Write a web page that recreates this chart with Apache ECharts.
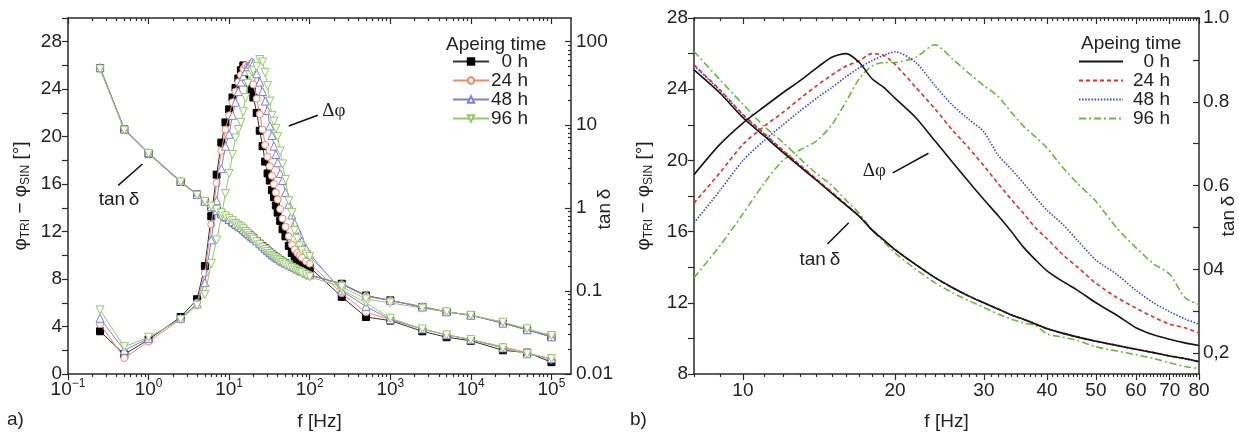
<!DOCTYPE html>
<html><head><meta charset="utf-8">
<script src="https://cdn.jsdelivr.net/npm/echarts@6/dist/echarts.min.js"></script>
<style>html,body{margin:0;padding:0;background:#fff}#c{width:1239px;height:437px}</style>
</head><body><div id="c"></div>
<script>
// ---------------- data ----------------
const ageLabels = ['0 h', '24 h', '48 h', '96 h'];

// panel a) frequencies [Hz]
const freqA = [0.25, 0.5, 1, 2.5, 4, 5, 6, 7, 8, 9, 10, 11, 12, 13, 14, 15, 16, 17, 18, 19, 20, 22, 24, 26, 28, 30, 32, 34, 36, 38, 40, 43, 46, 50, 55, 60, 65, 70, 75, 80, 90, 100, 250, 500, 1000, 2500, 5000, 10000, 25000, 50000, 100000];
// panel a) delta phi [deg]
const dphiA_0h  = [3.6, 1.65, 2.9, 4.8, 6.3, 9.1, 13.3, 16.8, 19.5, 21.2, 22.3, 23.3, 24.1, 24.9, 25.6, 26.0, 25.5, 25.0, 24.5, 23.9, 23.3, 22.0, 20.5, 19.2, 17.9, 16.9, 16.3, 15.5, 14.9, 14.2, 13.6, 12.9, 12.2, 11.6, 10.8, 10.2, 9.9, 9.7, 9.5, 9.4, 9.2, 9.0, 6.5, 4.8, 4.5, 3.6, 3.1, 2.8, 2.0, 1.8, 1.0];
const dphiA_24h = [4.2, 1.35, 2.75, 4.6, 6.0, 8.5, 12.6, 16.1, 18.8, 20.6, 21.8, 22.9, 23.8, 24.6, 25.2, 25.7, 26.0, 25.9, 25.4, 24.9, 24.4, 23.2, 21.9, 20.6, 19.3, 18.3, 17.5, 16.7, 16.0, 15.3, 14.7, 13.9, 13.1, 12.4, 11.6, 10.9, 10.5, 10.2, 10.0, 9.8, 9.5, 9.3, 6.8, 5.2, 4.6, 3.8, 3.3, 2.9, 2.3, 1.8, 1.2];
const dphiA_48h = [4.7, 2.0, 3.0, 4.7, 5.9, 7.7, 11.3, 14.6, 17.3, 19.2, 20.2, 21.8, 22.9, 23.8, 24.6, 25.1, 25.5, 25.9, 26.1, 26.3, 26.2, 25.3, 24.6, 23.8, 23.0, 22.2, 20.9, 20.1, 19.2, 18.5, 17.8, 16.9, 16.3, 15.3, 14.3, 13.4, 12.7, 12.2, 11.7, 11.2, 10.6, 10.1, 7.0, 5.7, 4.6, 3.8, 3.3, 2.9, 2.2, 1.7, 1.3];
const dphiA_96h = [5.4, 2.3, 3.1, 4.6, 5.8, 6.7, 9.3, 11.3, 13.3, 15.2, 16.9, 18.5, 19.9, 20.6, 21.2, 22.1, 23.3, 24.5, 25.2, 25.5, 25.6, 25.9, 26.5, 26.3, 25.4, 24.3, 23.0, 21.8, 21.3, 20.7, 20.0, 18.8, 17.7, 16.4, 14.6, 13.6, 12.1, 11.4, 10.8, 10.4, 10.1, 9.9, 7.1, 6.0, 4.7, 3.8, 3.3, 2.9, 2.2, 1.7, 1.3];
// panel a) tan delta
const tanA_0h  = [48, 8.8, 4.5, 2.05, 1.45, 1.2, 1.02, 0.92, 0.84, 0.77, 0.72, 0.67, 0.63, 0.6, 0.57, 0.54, 0.51, 0.49, 0.47, 0.45, 0.43, 0.4, 0.37, 0.345, 0.325, 0.305, 0.29, 0.275, 0.265, 0.255, 0.245, 0.235, 0.225, 0.215, 0.205, 0.197, 0.19, 0.183, 0.177, 0.172, 0.163, 0.155, 0.122, 0.088, 0.077, 0.064, 0.056, 0.051, 0.041, 0.034, 0.028];
const tanA_24h = [48, 8.9, 4.5, 2.05, 1.45, 1.2, 1.03, 0.93, 0.85, 0.78, 0.73, 0.68, 0.64, 0.61, 0.58, 0.55, 0.52, 0.49, 0.47, 0.45, 0.43, 0.4, 0.37, 0.345, 0.325, 0.305, 0.29, 0.276, 0.265, 0.255, 0.246, 0.235, 0.226, 0.216, 0.206, 0.198, 0.19, 0.184, 0.178, 0.172, 0.164, 0.156, 0.12, 0.087, 0.077, 0.065, 0.056, 0.051, 0.042, 0.034, 0.029];
const tanA_48h = [49, 8.9, 4.6, 2.1, 1.45, 1.2, 1.03, 0.93, 0.85, 0.78, 0.73, 0.68, 0.64, 0.61, 0.58, 0.55, 0.52, 0.49, 0.47, 0.45, 0.43, 0.4, 0.37, 0.345, 0.325, 0.305, 0.29, 0.276, 0.265, 0.255, 0.246, 0.235, 0.226, 0.216, 0.206, 0.198, 0.19, 0.184, 0.178, 0.172, 0.164, 0.156, 0.121, 0.086, 0.077, 0.064, 0.056, 0.051, 0.041, 0.034, 0.028];
const tanA_96h = [47, 8.6, 4.5, 2.05, 1.42, 1.2, 1.05, 0.95, 0.87, 0.8, 0.75, 0.7, 0.65, 0.62, 0.59, 0.56, 0.52, 0.49, 0.46, 0.44, 0.42, 0.39, 0.36, 0.335, 0.315, 0.297, 0.282, 0.268, 0.257, 0.25, 0.24, 0.23, 0.22, 0.21, 0.2, 0.192, 0.184, 0.177, 0.171, 0.165, 0.156, 0.148, 0.112, 0.08, 0.072, 0.062, 0.056, 0.051, 0.042, 0.035, 0.029];

// panel b) frequencies [Hz]
const freqB = [8, 9, 10, 11, 12, 13, 14, 15, 16, 17, 18, 19, 20, 22, 24, 26, 28, 30, 32, 34, 36, 38, 40, 43, 46, 50, 55, 60, 65, 70, 75, 80];
const dphiB_0h  = [19.2, 20.9, 22.1, 23.0, 23.8, 24.5, 25.2, 25.8, 26.0, 25.5, 24.6, 24.1, 23.5, 22.4, 21.1, 19.9, 18.8, 17.8, 16.9, 16.0, 15.1, 14.4, 13.8, 13.2, 12.7, 12.0, 11.3, 10.6, 10.2, 9.95, 9.75, 9.6];
const dphiB_24h = [17.6, 19.3, 20.9, 21.9, 22.7, 23.5, 24.2, 24.8, 25.3, 25.6, 26.0, 25.9, 25.4, 24.1, 22.9, 21.7, 20.7, 19.7, 18.7, 17.8, 17.0, 16.2, 15.6, 14.7, 14.0, 13.1, 12.3, 11.7, 11.2, 10.8, 10.6, 10.3];
const dphiB_48h = [16.5, 18.3, 20.0, 21.1, 22.0, 22.8, 23.5, 24.1, 24.7, 25.2, 25.6, 25.9, 26.1, 25.5, 24.2, 23.1, 22.3, 21.6, 20.3, 19.5, 18.7, 17.9, 17.2, 16.4, 15.5, 14.4, 13.6, 12.7, 12.0, 11.5, 11.1, 10.8];
const dphiB_96h = [13.4, 15.2, 17.0, 18.7, 20.0, 20.6, 21.1, 22.0, 23.3, 24.6, 25.3, 25.5, 25.5, 25.8, 26.5, 25.7, 24.9, 24.2, 23.6, 22.7, 21.9, 21.3, 20.7, 19.6, 18.7, 17.7, 16.2, 15.1, 14.2, 13.6, 12.3, 11.9];
const tanB_0h  = [0.876, 0.821, 0.762, 0.719, 0.679, 0.644, 0.612, 0.581, 0.553, 0.526, 0.494, 0.470, 0.447, 0.411, 0.380, 0.356, 0.336, 0.320, 0.305, 0.291, 0.280, 0.269, 0.258, 0.247, 0.238, 0.228, 0.218, 0.209, 0.201, 0.193, 0.187, 0.180];
const tanB_24h = [0.888, 0.829, 0.770, 0.725, 0.684, 0.648, 0.615, 0.584, 0.555, 0.527, 0.495, 0.470, 0.447, 0.411, 0.380, 0.356, 0.336, 0.320, 0.305, 0.291, 0.280, 0.269, 0.258, 0.247, 0.238, 0.228, 0.218, 0.209, 0.201, 0.193, 0.187, 0.179];
const tanB_48h = [0.886, 0.827, 0.768, 0.724, 0.683, 0.647, 0.614, 0.583, 0.554, 0.527, 0.495, 0.470, 0.447, 0.411, 0.381, 0.357, 0.337, 0.320, 0.305, 0.292, 0.281, 0.270, 0.259, 0.248, 0.239, 0.229, 0.219, 0.210, 0.201, 0.193, 0.186, 0.179];
const tanB_96h = [0.920, 0.853, 0.794, 0.742, 0.703, 0.663, 0.628, 0.600, 0.565, 0.533, 0.494, 0.466, 0.439, 0.400, 0.368, 0.344, 0.325, 0.309, 0.293, 0.281, 0.272, 0.265, 0.246, 0.238, 0.230, 0.215, 0.205, 0.196, 0.187, 0.177, 0.168, 0.163];

// tick labels
const xDecadeExpA = [-1, 0, 1, 2, 3, 4, 5];
const tanTicksA = [0.01, 0.1, 1, 10, 100];
const tanTickLabelsA = ['0.01', '0.1', '1', '10', '100'];
const xTicksB = [10, 20, 30, 40, 50, 60, 70, 80];
const tanTicksB = [0.2, 0.4, 0.6, 0.8, 1.0];
const tanTickLabelsB = ['0,2', '04', '0.6', '0.8', '1.0'];

// ---------------- chart ----------------
const FONT = 'Liberation Sans';
const AX = '#2a2a2a';
const TXT = '#222';
const FS = 19;

const xMinA = 0.1, xMaxA = 1.75e5;
const yMaxA = 30;
const tanMinA = 0.01, tanMaxA = 0.01 * Math.pow(10, yMaxA / 7);
const xMinB = 8, xMaxB = 80;

function logMinor(minV, maxV) {
  const out = [];
  for (let e = -3; e <= 6; e++) for (let m = 2; m <= 9; m++) {
    const v = +(m * Math.pow(10, e)).toPrecision(6);
    if (v > minV && v < maxV) out.push(v);
  }
  return out;
}
const minorB = [];
for (let f = xMinB; f < xMaxB; f++) if (f % 10 !== 0) minorB.push(f);
const tanMinorTicksB = [0.2, 0.3, 0.4, 0.5, 0.6, 0.7, 0.8, 0.9, 1.0];

const lineAx = {show: true, onZero: false, lineStyle: {color: AX, width: 1.5}};
const noLine = {show: false, onZero: false};
function tick(vals, len, inside) { return {show: true, customValues: vals, length: len, inside: !!inside, lineStyle: {color: AX, width: 1.2}}; }

function xAx(grid, type, pos, min, max, extra) {
  return Object.assign({type: type, gridIndex: grid, position: pos, min: min, max: max,
    axisLine: noLine, axisTick: {show: false}, axisLabel: {show: false}, splitLine: {show: false}}, extra);
}
const supRich = {b: {fontSize: FS, color: TXT, fontFamily: FONT}, s: {fontSize: 12, color: TXT, fontFamily: FONT, padding: [0, 0, 12, 0]}};
const powersA = xDecadeExpA.map(e => Math.pow(10, e));
const nameStyle = {fontSize: FS, color: TXT, fontFamily: FONT};

const xAxes = [
  // panel a
  xAx(0, 'log', 'bottom', xMinA, xMaxA, {axisLine: lineAx, axisTick: tick(powersA, 6),
    axisLabel: {show: true, customValues: powersA, margin: 4, rich: supRich,
      formatter: v => { const e = Math.round(Math.log10(v)); const i = xDecadeExpA.indexOf(e); return '{b|10}{s|' + (xDecadeExpA[i] < 0 ? '\u2212' + (-xDecadeExpA[i]) : xDecadeExpA[i]) + '}'; }},
    name: 'f [Hz]', nameLocation: 'middle', nameGap: 38, nameMoveOverlap: false, nameTextStyle: nameStyle}),
  xAx(0, 'log', 'bottom', xMinA, xMaxA, {axisTick: tick(logMinor(xMinA, xMaxA), 3)}),
  xAx(0, 'log', 'top', xMinA, xMaxA, {axisLine: lineAx, axisTick: tick(powersA, 6, true)}),
  xAx(0, 'log', 'top', xMinA, xMaxA, {axisTick: tick(logMinor(xMinA, xMaxA), 3, true)}),
  // panel b
  xAx(1, 'log', 'bottom', xMinB, xMaxB, {axisLine: lineAx, axisTick: tick(xTicksB, 6),
    axisLabel: {show: true, customValues: xTicksB, margin: 7, fontSize: FS, color: TXT, fontFamily: FONT, formatter: v => String(xTicksB[xTicksB.indexOf(Math.round(v))])},
    name: 'f [Hz]', nameLocation: 'middle', nameGap: 38, nameMoveOverlap: false, nameTextStyle: nameStyle}),
  xAx(1, 'log', 'bottom', xMinB, xMaxB, {axisTick: tick(minorB, 3)}),
  xAx(1, 'log', 'top', xMinB, xMaxB, {axisLine: lineAx, axisTick: tick(xTicksB, 6, true)}),
  xAx(1, 'log', 'top', xMinB, xMaxB, {axisTick: tick(minorB, 3, true)})
];

const nameRich = {s: {fontSize: 12, color: TXT, fontFamily: FONT, padding: [10, 0, 0, 0]}};
const yAxes = [
  // 0: panel a left
  {type: 'value', gridIndex: 0, position: 'left', min: 0, max: yMaxA, interval: 2,
   axisLine: lineAx, axisTick: {show: true, length: 6, lineStyle: {color: AX, width: 1.2}},
   axisLabel: {fontSize: FS, color: TXT, fontFamily: FONT, margin: 6, formatter: v => (v % 4 === 0 && v <= 28) ? String(v) : ''},
   splitLine: {show: false},
   name: '\u03c6{s|TRI} \u2212 \u03c6{s|SIN} [\u00b0]', nameLocation: 'middle', nameRotate: 90, nameGap: 36, nameMoveOverlap: false,
   nameTextStyle: Object.assign({rich: nameRich}, nameStyle)},
  // 1: panel a right (log)
  {type: 'log', gridIndex: 0, position: 'right', min: tanMinA, max: tanMaxA,
   axisLine: lineAx, axisTick: tick(tanTicksA, 6, true),
   axisLabel: {show: true, customValues: tanTicksA, fontSize: FS, color: TXT, fontFamily: FONT, margin: 5,
     formatter: v => { let b = 0, d = 1e9; tanTicksA.forEach((t, i) => { const dd = Math.abs(Math.log10(t / v)); if (dd < d) { d = dd; b = i; } }); return tanTickLabelsA[b]; }},
   splitLine: {show: false},
   name: 'tan\u2009\u03b4', nameLocation: 'middle', nameRotate: 90, nameGap: 24, nameMoveOverlap: false,
   nameTextStyle: Object.assign({padding: [0, 26, 0, 0]}, nameStyle)},
  // 2: panel a right minor
  {type: 'log', gridIndex: 0, position: 'right', min: tanMinA, max: tanMaxA,
   axisLine: noLine, axisTick: tick(logMinor(tanMinA, tanMaxA), 3, true), axisLabel: {show: false}, splitLine: {show: false}},
  // 3: panel b left
  {type: 'value', gridIndex: 1, position: 'left', min: 8, max: 28, interval: 2,
   axisLine: lineAx, axisTick: {show: true, length: 6, lineStyle: {color: AX, width: 1.2}},
   axisLabel: {fontSize: FS, color: TXT, fontFamily: FONT, margin: 6, formatter: v => (v % 4 === 0) ? String(v) : ''},
   splitLine: {show: false},
   name: '\u03c6{s|TRI} \u2212 \u03c6{s|SIN} [\u00b0]', nameLocation: 'middle', nameRotate: 90, nameGap: 39, nameMoveOverlap: false,
   nameTextStyle: Object.assign({rich: nameRich}, nameStyle)},
  // 4: panel b right
  {type: 'value', gridIndex: 1, position: 'right', min: 0.15, max: 1.0,
   axisLine: lineAx, axisTick: tick(tanMinorTicksB, 6, true),
   axisLabel: {show: true, customValues: tanTicksB, fontSize: FS, color: TXT, fontFamily: FONT, margin: 4,
     formatter: v => { let b = 0, d = 1e9; tanTicksB.forEach((t, i) => { const dd = Math.abs(t - v); if (dd < d) { d = dd; b = i; } }); return tanTickLabelsB[b]; }},
   splitLine: {show: false},
   name: 'tan\u2009\u03b4', nameLocation: 'middle', nameRotate: 90, nameGap: 20, nameMoveOverlap: false,
   nameTextStyle: Object.assign({padding: [0, 40, 0, 0]}, nameStyle)}
];

const pairs = (xs, ys) => xs.map((x, i) => [x, ys[i]]);
const dphiA = [dphiA_0h, dphiA_24h, dphiA_48h, dphiA_96h];
const tanA = [tanA_0h, tanA_24h, tanA_48h, tanA_96h];
const dphiB = [dphiB_0h, dphiB_24h, dphiB_48h, dphiB_96h];
const tanB = [tanB_0h, tanB_24h, tanB_48h, tanB_96h];

const colA = ['#333333', '#f2876a', '#7f7fd6', '#95c86c'];
const symA = ['rect', 'circle', 'triangle', 'path://M0,0L10,0L5,9Z'];
const sizeA = [7, 7, 8, 8];
const colB = ['#151515', '#e52a2a', '#3447c8', '#68b83a'];
const dashB = ['solid', [4, 3], [1.5, 1.6], [7, 3, 2, 3]];

const annoLabel = (txt, font) => ({show: true, position: 'inside', formatter: txt, fontSize: FS, color: TXT, fontFamily: font || FONT});
const arrowStyle = {color: '#111', width: 1.5, type: 'solid'};

const series = [];
const idx = {};
for (let k = 0; k < 4; k++) {
  const filled = k === 0;
  const base = {
    type: 'line', name: ageLabels[k], xAxisIndex: 0, symbol: symA[k], symbolSize: sizeA[k],
    showAllSymbol: true, z: 2 + k,
    lineStyle: {color: colA[k], width: 1},
    itemStyle: {color: filled ? '#000' : '#fff', borderColor: filled ? '#000' : colA[k], borderWidth: 1},
    emphasis: {disabled: true}, animation: false
  };
  idx['a_d' + k] = series.length;
  series.push(Object.assign({}, base, {yAxisIndex: 0, data: pairs(freqA, dphiA[k])}));
  series.push(Object.assign({}, base, {yAxisIndex: 1, data: pairs(freqA, tanA[k])}));
}
for (let k = 3; k >= 0; k--) {
  const base = {
    type: 'line', name: ageLabels[k] + ' ', xAxisIndex: 4, symbol: 'none', smooth: 0.25, z: 10 - k,
    lineStyle: {color: colB[k], width: 1.6, type: dashB[k]},
    itemStyle: {color: colB[k]}, emphasis: {disabled: true}, animation: false
  };
  idx['b_d' + k] = series.length;
  series.push(Object.assign({}, base, {yAxisIndex: 3, data: pairs(freqB, dphiB[k])}));
  series.push(Object.assign({}, base, {yAxisIndex: 4, data: pairs(freqB, tanB[k])}));
}
// annotations (panel a)
const sA = series[idx.a_d0];
sA.markPoint = {symbol: 'circle', symbolSize: 1, itemStyle: {color: 'rgba(0,0,0,0)'}, silent: true, animation: false,
  data: [{coord: [0.43, 14.7], label: annoLabel('tan\u2009\u03b4')}, {coord: [200, 22.2], label: annoLabel('\u0394\u03c6', 'Liberation Serif')}]};
sA.markLine = {symbol: ['none', 'arrow'], symbolSize: [0, 9], silent: true, animation: false, label: {show: false}, lineStyle: arrowStyle,
  data: [[{coord: [0.42, 15.9]}, {coord: [0.84, 17.7]}], [{coord: [126, 21.8]}, {coord: [55, 20.9]}]]};
// annotations (panel b)
const sB = series[idx.b_d0];
sB.markPoint = {symbol: 'circle', symbolSize: 1, itemStyle: {color: 'rgba(0,0,0,0)'}, silent: true, animation: false,
  data: [{coord: [14.2, 14.4], label: annoLabel('tan\u2009\u03b4')}, {coord: [18.2, 19.4], label: annoLabel('\u0394\u03c6', 'Liberation Serif')}]};
sB.markLine = {symbol: ['none', 'arrow'], symbolSize: [0, 9], silent: true, animation: false, label: {show: false}, lineStyle: arrowStyle,
  data: [[{coord: [14.7, 15.3]}, {coord: [16.2, 16.5]}]]};
const sB2 = series[idx.b_d1];
sB2.markLine = {symbol: ['none', 'arrow'], symbolSize: [0, 9], silent: true, animation: false, label: {show: false},
  lineStyle: Object.assign({}, arrowStyle, {curveness: -0.5}),
  data: [[{coord: [19.8, 19.3]}, {coord: [23.3, 20.4]}]]};

const legendText = {fontSize: FS, color: TXT, fontFamily: FONT};
const option = {
  backgroundColor: '#fff',
  animation: false,
  textStyle: {fontFamily: FONT},
  grid: [
    {left: 68, top: 18, width: 503, height: 356},
    {left: 694, top: 18, width: 505, height: 356}
  ],
  xAxis: xAxes,
  yAxis: yAxes,
  legend: [
    {data: ageLabels, orient: 'vertical', left: 452, top: 52, padding: 0, itemWidth: 36, itemHeight: 8, itemGap: 0, selectedMode: false,
     textStyle: Object.assign({}, legendText, {rich: {a: Object.assign({width: 34, align: 'right'}, legendText)}}),
     formatter: n => '{a|' + n + '}'},
    {data: ageLabels.map(a => a + ' '), orient: 'vertical', left: 1078, top: 52, padding: 0, itemWidth: 44, itemHeight: 8, itemGap: 0, selectedMode: false,
     itemStyle: {opacity: 0},
     textStyle: Object.assign({}, legendText, {rich: {a: Object.assign({width: 42, align: 'right'}, legendText)}}),
     formatter: n => '{a|' + n.trim() + '}'}
  ],
  graphic: [
    {type: 'text', left: 446, top: 35, style: {text: 'Apeing time', font: FS + 'px ' + FONT, fill: TXT}},
    {type: 'text', left: 1081, top: 34, style: {text: 'Apeing time', font: FS + 'px ' + FONT, fill: TXT}},
    {type: 'text', left: 7, top: 410, style: {text: 'a)', font: FS + 'px ' + FONT, fill: TXT}},
    {type: 'text', left: 630, top: 410, style: {text: 'b)', font: FS + 'px ' + FONT, fill: TXT}}
  ],
  series: series
};
const chart = echarts.init(document.getElementById('c'));
chart.setOption(option);
</script>
</body></html>
